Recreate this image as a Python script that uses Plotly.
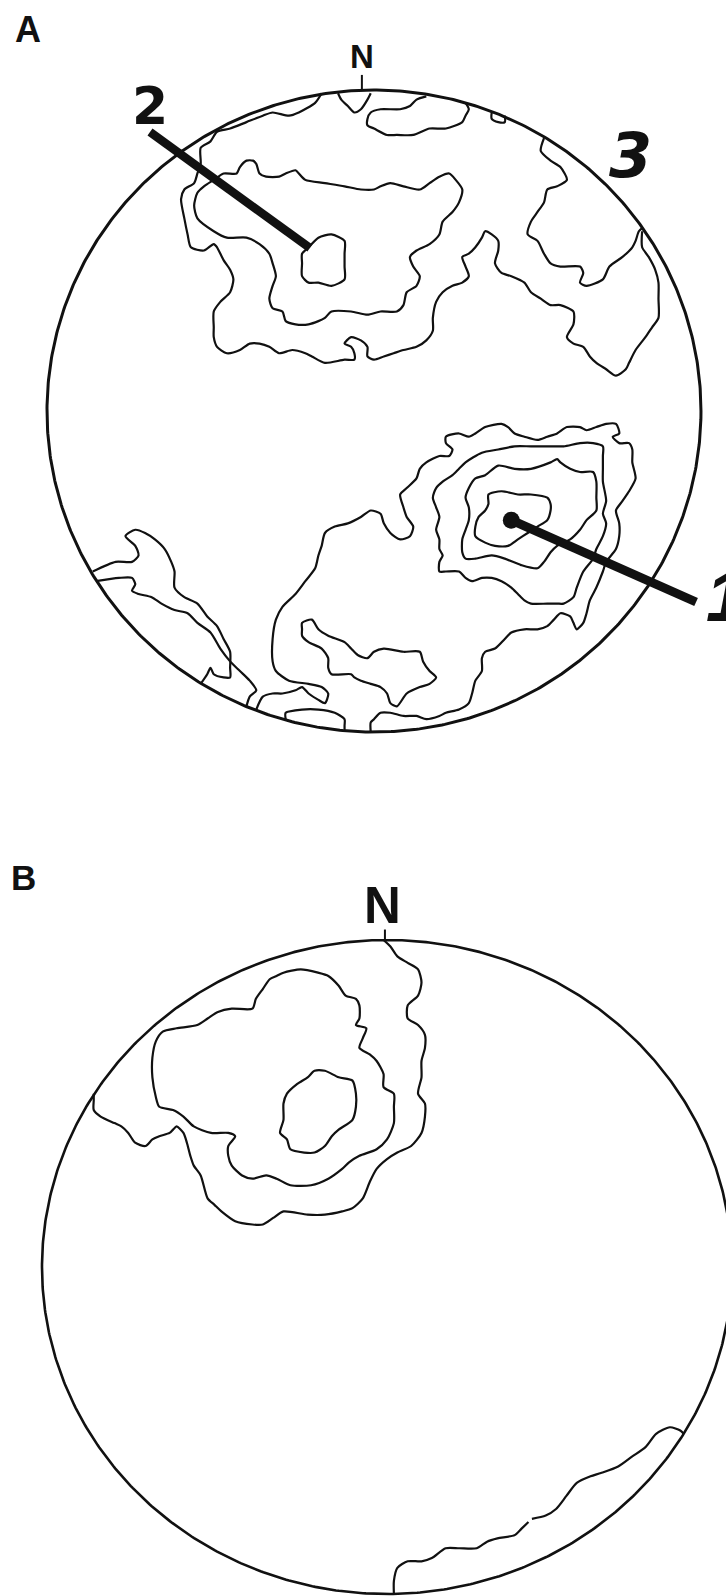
import numpy as np
import plotly.graph_objects as go

# Pole-density contours on two equal-area nets.
# Coordinates are net coordinates in percent of the primitive radius
# (x positive to the east, y positive to the north).

# ---------------- Net A ----------------
A_OUTER = [(82, 56), (82, 51), (84, 48), (86, 44), (87, 40), (87, 35), (87, 29), (85, 26),
           (83, 23), (80, 19), (78, 15), (77, 13), (74, 11), (71, 13), (68, 15), (66, 17),
           (64, 20), (61, 21), (59, 23), (61, 27), (61, 31), (57, 33), (54, 33), (51, 35),
           (48, 37), (46, 40), (42, 42), (39, 43), (37, 46), (38, 50), (38, 53), (36, 55),
           (34, 56), (33, 54), (31, 51), (29, 49), (27, 48), (28, 45), (29, 42), (27, 40),
           (24, 39), (21, 37), (19, 34), (18, 29), (18, 25), (16, 22), (13, 20), (9, 19),
           (6, 18), (3, 17), (0, 16), (-2, 17), (-2, 20), (-4, 22), (-7, 23), (-9, 21),
           (-7, 20), (-6, 18), (-6, 16), (-9, 16), (-15, 15), (-19, 17), (-21, 18), (-25, 19),
           (-29, 18), (-32, 20), (-35, 21), (-38, 21), (-41, 19), (-45, 18), (-48, 20),
           (-49, 23), (-49, 26), (-49, 31), (-47, 34), (-44, 37), (-43, 41), (-44, 44),
           (-46, 47), (-48, 51), (-49, 52), (-52, 50), (-56, 51), (-57, 55), (-58, 60),
           (-59, 66), (-58, 69), (-55, 71), (-54, 74), (-53, 77), (-53, 82), (-50, 84),
           (-48, 87), (-44, 88), (-39, 90), (-34, 92), (-31, 93), (-26, 92), (-23, 93),
           (-18, 96), (-16, 99)]
A_NW_MID = [(-54, 68), (-55, 64), (-54, 60), (-49, 56), (-45, 54), (-39, 54), (-35, 52),
            (-32, 49), (-31, 46), (-30, 42), (-31, 39), (-32, 35), (-31, 32), (-28, 31),
            (-27, 28), (-24, 27), (-20, 27), (-17, 28), (-15, 29), (-13, 31), (-7, 31),
            (-2, 30), (2, 31), (7, 31), (9, 33), (10, 37), (13, 39), (14, 42), (12, 45),
            (11, 48), (13, 50), (17, 52), (20, 55), (21, 59), (24, 62), (26, 65), (27, 69),
            (25, 72), (23, 74), (20, 73), (17, 71), (14, 69), (9, 70), (5, 71), (2, 70),
            (0, 69), (-4, 69), (-9, 70), (-15, 71), (-21, 72), (-23, 74), (-24, 75),
            (-27, 74), (-29, 73), (-33, 73), (-35, 74), (-36, 77), (-37, 78), (-39, 78),
            (-41, 76), (-42, 74), (-46, 74), (-49, 72), (-52, 70), (-54, 68)]
A_NW_IN = [(-17, 54), (-13, 55), (-9, 53), (-9, 49), (-9, 45), (-9, 41), (-13, 39),
           (-17, 40), (-20, 40), (-22, 42), (-22, 46), (-22, 49), (-20, 51), (-17, 54)]
A_N_TOP = [(16, 98), (13, 97), (11, 95), (8, 94), (2, 94), (-1, 93), (-2, 91), (-2, 89),
           (0, 88), (4, 86), (7, 86), (12, 86), (17, 88), (22, 88), (27, 90), (28, 92),
           (29, 94), (28, 96)]
A_N_NOTCH = [(-11, 99), (-10, 97), (-8, 95), (-6, 93), (-4, 94), (-2, 97), (-1, 99)]
A_N_SMALL = [(36, 93), (36, 91), (38, 90), (40, 90), (40, 92)]
A_NE = [(52, 85), (51, 81), (54, 78), (57, 76), (59, 72), (56, 70), (53, 69), (52, 65),
        (50, 62), (48, 59), (47, 55), (50, 53), (52, 49), (54, 46), (57, 45), (63, 45),
        (64, 43), (63, 40), (65, 39), (70, 41), (72, 45), (76, 48), (79, 51), (80, 53),
        (81, 56), (82, 57)]
A_S_OUTER = [(-1, -100), (-1, -97), (0, -96), (2, -94), (5, -94), (9, -95), (13, -95),
             (16, -96), (20, -95), (22, -94), (26, -93), (29, -91), (30, -88), (31, -84),
             (33, -81), (33, -77), (34, -75), (37, -74), (40, -71), (42, -69), (46, -68),
             (50, -68), (53, -67), (55, -65), (57, -63), (60, -64), (61, -66), (62, -68),
             (64, -66), (65, -63), (66, -59), (68, -55), (70, -50), (71, -47), (74, -43),
             (75, -39), (75, -35), (74, -31), (76, -28), (78, -25), (80, -21), (79, -16),
             (79, -12), (78, -10), (75, -10), (73, -8), (75, -7), (74, -4), (71, -4),
             (68, -5), (65, -6), (63, -5), (59, -5), (56, -7), (53, -8), (50, -9), (46, -8),
             (43, -7), (41, -5), (39, -4), (34, -5), (31, -7), (29, -8), (26, -7), (22, -8),
             (22, -10), (24, -12), (23, -14), (20, -14), (16, -16), (14, -18), (13, -21),
             (10, -24), (8, -26), (9, -30), (10, -33), (12, -36), (11, -39), (8, -40),
             (5, -38), (3, -35), (2, -32), (-1, -31), (-4, -33), (-8, -35), (-12, -36),
             (-15, -38), (-16, -42), (-17, -45), (-18, -49), (-21, -53), (-24, -57),
             (-28, -61), (-30, -65), (-31, -71), (-31, -78), (-30, -81), (-26, -84),
             (-20, -85), (-16, -86), (-14, -88), (-15, -91), (-17, -90), (-20, -88),
             (-22, -86), (-24, -87), (-28, -88), (-31, -88), (-34, -89), (-36, -93)]
A_S_RIM = [(-27, -96), (-27, -94), (-22, -93), (-17, -93), (-12, -94), (-9, -96),
           (-9, -98), (-9, -100)]
A_S_MID = [(-22, -66), (-19, -65), (-17, -68), (-14, -70), (-9, -72), (-7, -74), (-5, -76),
           (-2, -77), (0, -75), (3, -74), (9, -75), (14, -75), (15, -78), (17, -81),
           (19, -83), (17, -85), (14, -86), (10, -88), (7, -92), (5, -91), (4, -88),
           (2, -86), (-1, -85), (-4, -84), (-6, -83), (-7, -82), (-13, -82), (-14, -80),
           (-14, -77), (-16, -74), (-20, -72), (-22, -70), (-22, -68), (-22, -66)]
A_SE_2 = [(28, -16), (33, -13), (38, -12), (43, -11), (48, -11), (54, -11), (58, -11),
          (63, -10), (67, -10), (70, -11), (70, -14), (70, -18), (70, -22), (71, -28),
          (70, -32), (71, -35), (70, -39), (68, -43), (67, -46), (64, -50), (62, -55),
          (61, -58), (58, -60), (56, -60), (53, -60), (48, -60), (46, -59), (44, -57),
          (42, -55), (39, -53), (36, -52), (33, -52), (30, -53), (28, -52), (26, -50),
          (22, -50), (20, -50), (20, -47), (21, -45), (20, -43), (20, -40), (19, -37),
          (20, -33), (19, -30), (18, -27), (19, -24), (21, -22), (24, -20), (26, -18),
          (28, -16)]
A_SE_3 = [(34, -20), (38, -17), (43, -18), (48, -18), (54, -16), (56, -15), (57, -16),
          (60, -18), (63, -19), (67, -19), (68, -22), (68, -27), (68, -31), (65, -34),
          (63, -37), (60, -40), (56, -42), (54, -44), (52, -47), (50, -49), (45, -48),
          (40, -46), (36, -45), (31, -46), (28, -46), (27, -44), (27, -40), (28, -37),
          (29, -34), (29, -30), (28, -27), (29, -24), (31, -21), (34, -20)]
A_SE_4 = [(35, -26), (39, -25), (44, -26), (48, -26), (53, -27), (54, -29), (54, -31),
          (53, -34), (50, -36), (47, -38), (44, -40), (41, -42), (37, -42), (34, -41),
          (31, -39), (31, -36), (32, -33), (34, -31), (35, -29), (35, -26)]
A_SW_1 = [(-86, -50), (-79, -47), (-74, -47), (-72, -45), (-73, -42), (-76, -39),
          (-73, -37), (-70, -38), (-67, -40), (-64, -43), (-62, -47), (-61, -50),
          (-61, -55), (-58, -58), (-54, -60), (-51, -64), (-48, -67), (-46, -71),
          (-44, -75), (-44, -80), (-44, -83), (-46, -83), (-49, -82), (-50, -80),
          (-51, -82), (-53, -85)]
A_SW_2 = [(-85, -53), (-78, -52), (-74, -52), (-73, -54), (-74, -56), (-72, -57),
          (-68, -58), (-65, -60), (-61, -62), (-57, -63), (-54, -66), (-50, -69),
          (-47, -74), (-44, -78), (-41, -81), (-38, -84), (-36, -87), (-38, -89),
          (-39, -92)]

A_MAX = (42, -34)          # density maximum "1"

# ---------------- Net B ----------------
B_OUTER = [(-1, 100), (1, 98), (3, 95), (6, 93), (9, 91), (10, 87), (9, 83), (6, 80),
           (6, 76), (9, 74), (11, 71), (11, 67), (10, 63), (10, 58), (9, 53), (11, 50),
           (11, 46), (10, 41), (7, 37), (3, 35), (0, 33), (-3, 30), (-5, 26), (-7, 21),
           (-10, 18), (-13, 17), (-18, 16), (-23, 16), (-30, 17), (-33, 15), (-36, 13),
           (-39, 13), (-44, 14), (-48, 17), (-50, 19), (-52, 21), (-54, 28), (-56, 31),
           (-57, 34), (-58, 38), (-59, 41), (-61, 43), (-62, 42), (-63, 41), (-66, 40),
           (-68, 39), (-70, 37), (-73, 38), (-75, 41), (-77, 43), (-79, 44), (-83, 46),
           (-85, 48), (-85, 51), (-85, 53)]
B_MID = [(-30, 90), (-25, 91), (-20, 90), (-17, 89), (-14, 86), (-12, 83), (-9, 82),
         (-8, 80), (-8, 76), (-9, 74), (-6, 73), (-7, 70), (-8, 67), (-5, 65), (-3, 63),
         (-1, 59), (-1, 55), (2, 53), (2, 49), (2, 44), (0, 39), (-3, 36), (-8, 34),
         (-11, 32), (-13, 30), (-17, 27), (-22, 25), (-28, 25), (-32, 27), (-35, 28),
         (-39, 27), (-42, 28), (-45, 31), (-46, 34), (-46, 37), (-44, 40), (-46, 41),
         (-51, 41), (-56, 43), (-59, 46), (-62, 48), (-66, 49), (-67, 52), (-68, 58),
         (-68, 64), (-67, 69), (-65, 72), (-61, 73), (-55, 74), (-52, 76), (-49, 78),
         (-45, 79), (-39, 79), (-38, 82), (-36, 85), (-34, 88), (-32, 89), (-30, 90)]
B_IN = [(-18, 60), (-14, 58), (-10, 57), (-9, 53), (-9, 49), (-10, 45), (-14, 42),
        (-16, 40), (-18, 37), (-21, 35), (-24, 35), (-28, 36), (-29, 39), (-31, 41),
        (-30, 45), (-30, 50), (-29, 53), (-26, 56), (-23, 58), (-21, 60), (-18, 60)]
B_SE = [(2, -100), (2, -96), (3, -92), (6, -90), (10, -90), (13, -89), (17, -86),
        (21, -86), (26, -86), (29, -84), (32, -83), (37, -82), (39, -80), (41, -78),
        (None, None),
        (42, -77), (46, -76), (49, -74), (52, -70), (55, -66), (59, -64), (62, -63),
        (67, -61), (71, -58), (75, -55), (78, -51), (82, -49), (85, -50), (86, -51)]

# ---------------- drawing ----------------
INK = "#111111"
FONT = "Liberation Sans"
WIDE = "DejaVu Sans"

fig = go.Figure()


def add_line(pts, xa, ya, width=2.2):
    xs = [p[0] for p in pts]
    ys = [p[1] for p in pts]
    fig.add_trace(go.Scatter(x=xs, y=ys, xaxis=xa, yaxis=ya, mode="lines",
                             line=dict(color=INK, width=width, shape="spline",
                                       smoothing=0.7),
                             hoverinfo="skip", connectgaps=False))


theta = np.linspace(0, 2 * np.pi, 721)
for xa, ya, w in (("x", "y", 3.0), ("x2", "y2", 2.6)):
    fig.add_trace(go.Scatter(x=100 * np.cos(theta), y=100 * np.sin(theta),
                             xaxis=xa, yaxis=ya, mode="lines",
                             line=dict(color=INK, width=w), hoverinfo="skip"))

for c in (A_OUTER, A_NW_MID, A_NW_IN, A_N_TOP, A_N_NOTCH, A_N_SMALL, A_NE,
          A_S_OUTER, A_S_RIM, A_S_MID, A_SE_2, A_SE_3, A_SE_4, A_SW_1, A_SW_2):
    add_line(c, "x", "y")

for c in (B_OUTER, B_MID, B_IN, B_SE):
    add_line(c, "x2", "y2")

# density maximum of net A
fig.add_trace(go.Scatter(x=[A_MAX[0]], y=[A_MAX[1]], xaxis="x", yaxis="y",
                         mode="markers", marker=dict(color=INK, size=17),
                         hoverinfo="skip"))

shapes = [
    # north ticks
    dict(type="line", xref="x", yref="y", x0=-3.7, y0=100, x1=-3.7, y1=104.7,
         line=dict(color=INK, width=2)),
    dict(type="line", xref="x2", yref="y2", x0=-0.6, y0=100, x1=-0.6, y1=103.2,
         line=dict(color=INK, width=2)),
    # leaders to maxima 1 and 2
    dict(type="line", xref="x", yref="y", x0=A_MAX[0], y0=A_MAX[1], x1=98.5, y1=-59.5,
         line=dict(color=INK, width=9)),
    dict(type="line", xref="x", yref="y", x0=-68.5, y0=86.9, x1=-19.6, y1=50.8,
         line=dict(color=INK, width=8.5)),
]


def label(text, x, y, xref, yref, size, family=FONT, italic=False):
    return dict(text=text, x=x, y=y, xref=xref, yref=yref, showarrow=False,
                xanchor="center", yanchor="middle",
                font=dict(family=family, size=size, color=INK, weight="bold",
                          style="italic" if italic else "normal"))


annotations = [
    label("A", -105.8, 118.8, "x", "y", 36),
    label("N", -3.7, 110.5, "x", "y", 33),
    label("2", -68.5, 95.0, "x", "y", 52, family=WIDE),
    label("3", 78.3, 79.5, "x", "y", 62, family=WIDE, italic=True),
    label("1", 107.5, -58.0, "x", "y", 70, italic=True),
    label("B", -105.5, 119.0, "x2", "y2", 35),
    label("N", -1.2, 110.5, "x2", "y2", 51),
]

fig.update_layout(
    width=726, height=1596, autosize=False,
    margin=dict(l=0, r=0, t=0, b=0),
    paper_bgcolor="white", plot_bgcolor="white", showlegend=False,
    shapes=shapes, annotations=annotations,
    xaxis=dict(domain=[0, 1], range=[-114.37, 107.65], visible=False, anchor="y"),
    yaxis=dict(domain=[0.49875, 1], range=[-121.18, 128.04], visible=False, anchor="x"),
    xaxis2=dict(domain=[0, 1], range=[-112.17, 98.26], visible=False, anchor="y2"),
    yaxis2=dict(domain=[0, 0.49875], range=[-100.61, 142.81], visible=False, anchor="x2"),
)

fig.write_html("out.html")
